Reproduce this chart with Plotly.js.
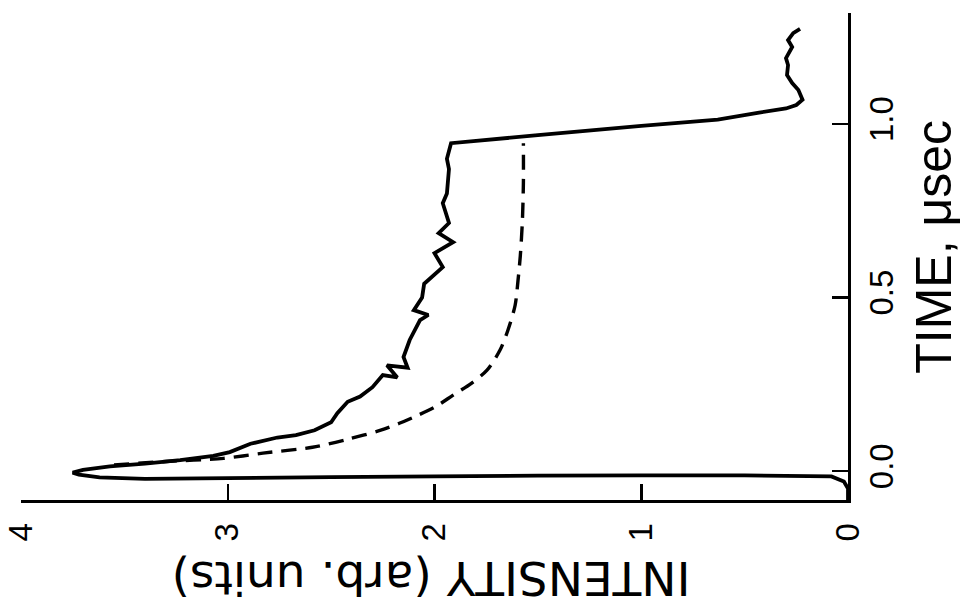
<!DOCTYPE html>
<html>
<head>
<meta charset="utf-8">
<script src="https://cdn.plot.ly/plotly-3.0.1.min.js"></script>
<style>
  html, body { margin: 0; padding: 0; background: #ffffff; }
  #chart { width: 965px; height: 609px; }
</style>
</head>
<body>
<div id="chart"></div>
<script>
// Measured trace: intensity (arb. units) vs time (microseconds)
const measuredIntensity = [0, 0, 0.02, 0.08, 0.5, 1.0, 1.5, 2.0, 2.5, 3.0, 3.4, 3.62, 3.72, 3.75, 3.7, 3.57, 3.4, 3.23, 3.07, 2.99, 2.89, 2.76, 2.67, 2.58, 2.5, 2.47, 2.42, 2.36, 2.30, 2.25, 2.18, 2.23, 2.13, 2.15, 2.12, 2.07, 2.03, 2.1, 2.06, 2.05, 1.96, 2.0, 1.91, 1.98, 1.93, 1.96, 1.94, 1.93, 1.94, 1.92, 1.5, 1.0, 0.63, 0.43, 0.3, 0.25, 0.22, 0.24, 0.27, 0.295, 0.29, 0.30, 0.27, 0.29, 0.265, 0.232];
const measuredTime = [-0.083, -0.05, -0.03, -0.015, -0.012, -0.012, -0.013, -0.015, -0.017, -0.02, -0.022, -0.018, -0.01, -0.004, 0.004, 0.014, 0.022, 0.032, 0.044, 0.055, 0.079, 0.097, 0.104, 0.118, 0.141, 0.167, 0.2, 0.215, 0.242, 0.277, 0.270, 0.305, 0.298, 0.329, 0.378, 0.435, 0.45, 0.464, 0.50, 0.54, 0.588, 0.628, 0.66, 0.686, 0.715, 0.772, 0.80, 0.87, 0.90, 0.945, 0.968, 0.995, 1.013, 1.033, 1.045, 1.055, 1.07, 1.098, 1.118, 1.141, 1.17, 1.19, 1.222, 1.242, 1.262, 1.274];

// Dashed curve
const dashedIntensity = [3.55, 3.3, 3.02, 2.83, 2.59, 2.42, 2.26, 2.17, 2.10, 2.0, 1.91, 1.82, 1.746, 1.683, 1.645, 1.61, 1.596, 1.585, 1.575, 1.57, 1.57];
const dashedTime = [0.018, 0.028, 0.037, 0.052, 0.069, 0.092, 0.118, 0.138, 0.156, 0.184, 0.219, 0.254, 0.291, 0.349, 0.406, 0.478, 0.55, 0.62, 0.72, 0.83, 0.945];

const intensityTicks = [0, 1, 2, 3, 4];
const intensityTickText = ['0', '1', '2', '3', '4'];
const timeTicks = [0, 0.5, 1.0];
const timeTickText = ['0.0', '0.5', '1.0'];

const traces = [
  {
    x: measuredIntensity, y: measuredTime,
    type: 'scatter', mode: 'lines',
    line: { color: '#000000', width: 3.8, simplify: false },
    hoverinfo: 'skip', showlegend: false
  },
  {
    x: dashedIntensity, y: dashedTime,
    type: 'scatter', mode: 'lines', line: { color: '#000000', width: 3.4, dash: '15px,9px', shape: 'spline', smoothing: 0.8 },
    hoverinfo: 'skip', showlegend: false
  }
];

const tickFont = { family: 'Liberation Sans, Arial, sans-serif', size: 33, color: '#000000' };

const layout = {
  width: 965, height: 609,
  margin: { l: 21, r: 117, t: 13, b: 109, pad: 0 },
  paper_bgcolor: '#ffffff', plot_bgcolor: '#ffffff',
  showlegend: false,
  xaxis: {
    range: [4, 0],
    showline: true, linecolor: '#000000', linewidth: 3,
    ticks: 'inside', ticklen: 16, tickwidth: 2.5, tickcolor: '#000000',
    tickmode: 'array', tickvals: intensityTicks, ticktext: intensityTickText,
    tickangle: -90, tickfont: tickFont, ticklabelstandoff: 7,
    showgrid: false, zeroline: false, fixedrange: true
  },
  yaxis: {
    side: 'right',
    range: [-0.083, 1.32],
    showline: true, linecolor: '#000000', linewidth: 3,
    ticks: 'inside', ticklen: 16, tickwidth: 2.5, tickcolor: '#000000',
    tickmode: 'array', tickvals: timeTicks, ticktext: timeTickText,
    tickangle: -90, tickfont: tickFont, ticklabelstandoff: 2,
    showgrid: false, zeroline: false, fixedrange: true
  },
  annotations: [
    {
      text: 'TIME, \u03BCsec', xref: 'paper', yref: 'paper',
      x: 1.104, y: 0.52, xanchor: 'center', yanchor: 'middle',
      textangle: -90, showarrow: false,
      font: { family: 'Liberation Sans, Arial, sans-serif', size: 50, color: '#000000' }
    },
    {
      text: 'INTENSITY (arb. units)', xref: 'paper', yref: 'paper',
      x: 0.496, y: -0.16, xanchor: 'center', yanchor: 'middle',
      textangle: 180, showarrow: false,
      font: { family: 'DejaVu Sans, sans-serif', size: 47, color: '#000000' }
    }
  ]
};

Plotly.newPlot('chart', traces, layout, { displayModeBar: false, staticPlot: true });
</script>
</body>
</html>
